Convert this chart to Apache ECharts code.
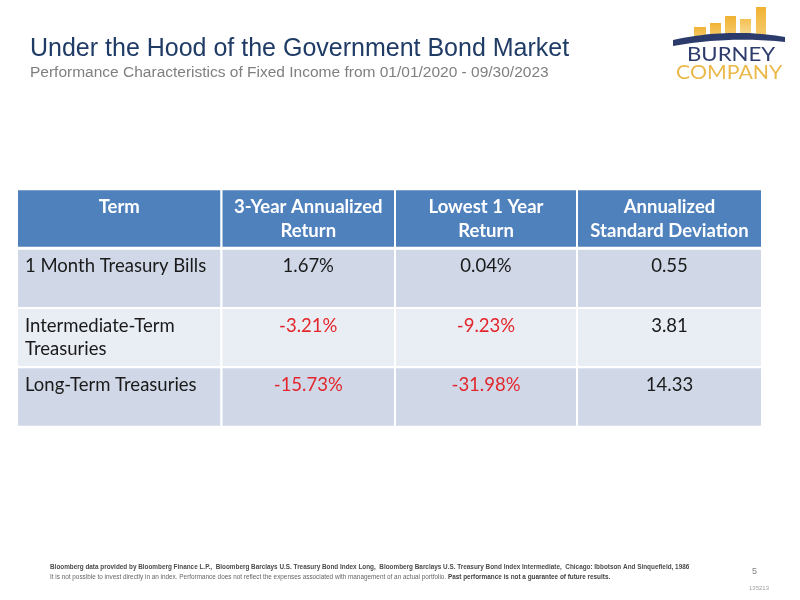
<!DOCTYPE html>
<html><head><meta charset="utf-8">
<script src="https://cdn.jsdelivr.net/npm/echarts@6/dist/echarts.min.js"></script>
<style>html,body{margin:0;padding:0;background:#fff}#c{width:800px;height:600px}</style>
</head><body><div id="c"></div>
<script>
// ---- data ----
const headers = ['Term', '3-Year Annualized\nReturn', 'Lowest 1 Year\nReturn', 'Annualized\nStandard Deviation'];
const terms = ['1 Month Treasury Bills', 'Intermediate-Term\nTreasuries', 'Long-Term Treasuries'];
const threeYearReturn = [1.67, -3.21, -15.73];
const lowestOneYearReturn = [0.04, -9.23, -31.98];
const annualizedStdDev = [0.55, 3.81, 14.33];

// ---- layout (not data) ----
const colWidths = [204.5, 173.5, 182, 185];
const colStarts = colWidths.map((w, i) => colWidths.slice(0, i).reduce((a, b) => a + b, 0));
const totalW = colWidths.reduce((a, b) => a + b, 0);
const rowCats = ['header'].concat(terms);
const bodyFont = 'Lato, "Noto Sans", sans-serif';

const cells = [];
headers.forEach((h, c) => cells.push({ value: [c, 0], text: h, kind: 'head' }));
terms.forEach((t, r) => {
  cells.push({ value: [0, r + 1], text: t, kind: 'term' });
  [threeYearReturn, lowestOneYearReturn].forEach((arr, k) =>
    cells.push({ value: [k + 1, r + 1], text: arr[r].toFixed(2) + '%', neg: arr[r] < 0, kind: 'num' }));
  cells.push({ value: [3, r + 1], text: annualizedStdDev[r].toFixed(2), neg: annualizedStdDev[r] < 0, kind: 'num' });
});

function renderCell(params, api) {
  const cell = cells[params.dataIndex];
  const c = api.value(0), r = api.value(1);
  const p0 = api.coord([colStarts[c], r]);
  const p1 = api.coord([colStarts[c] + colWidths[c], r]);
  const bandH = api.size([0, 1])[1];
  const isHead = cell.kind === 'head';
  const x = p0[0], y = p0[1] - bandH / 2, w = p1[0] - p0[0];
  const h = isHead ? bandH - 1 : bandH;
  const fill = isHead ? '#4F81BD' : (r % 2 === 1 ? '#D0D8E8' : '#E9EDF4');
  const left = cell.kind === 'term';
  return {
    type: 'group',
    children: [
      { type: 'rect', shape: { x: x, y: y, width: w, height: h },
        style: { fill: fill, stroke: '#ffffff', lineWidth: 2 } },
      { type: 'text',
        style: {
          text: cell.text,
          x: left ? x + 8 : x + w / 2,
          y: y + 6,
          align: left ? 'left' : 'center',
          verticalAlign: 'top',
          fontFamily: bodyFont,
          fontSize: 18.5,
          fontWeight: isHead ? 'bold' : 'normal',
          lineHeight: 23.5,
          fill: isHead ? '#ffffff' : (cell.neg ? '#E3262B' : '#1a1a1a')
        } }
    ]
  };
}

// logo swoosh outline (decoration)
function quad(p0, c, p1, n) {
  const pts = [];
  for (let i = 0; i <= n; i++) {
    const t = i / n, u = 1 - t;
    pts.push([u * u * p0[0] + 2 * u * t * c[0] + t * t * p1[0], u * u * p0[1] + 2 * u * t * c[1] + t * t * p1[1]]);
  }
  return pts;
}
const swoosh = quad([673, 40], [729, 27.5], [785, 37], 24).concat(quad([785, 42], [729, 36], [673, 46], 24));

const narrow = '"Liberation Sans", Arial, sans-serif';
const barGrad = (a, b) => new echarts.graphic.LinearGradient(0, 0, 0, 1, [{ offset: 0, color: a }, { offset: 1, color: b }]);

const chart = echarts.init(document.getElementById('c'), null, { renderer: 'canvas' });
chart.setOption({
  backgroundColor: '#ffffff',
  animation: false,
  grid: { left: 17, top: 189.3, width: 745, height: 237.4 },
  xAxis: { type: 'value', min: 0, max: totalW, show: false },
  yAxis: { type: 'category', data: rowCats, inverse: true, show: false },
  series: [{
    type: 'custom',
    renderItem: renderCell,
    clip: false,
    data: cells.map(c => c.value)
  }],
  graphic: [
    { type: 'text', left: 30, top: 37,
      style: { text: 'Under the Hood of the Government Bond Market', fontFamily: '"Liberation Sans", Arial, sans-serif', fontSize: 25, fill: '#1F3B66' } },
    { type: 'text', left: 30, top: 65,
      style: { text: 'Performance Characteristics of Fixed Income from 01/01/2020 - 09/30/2023', fontFamily: '"Liberation Sans", Arial, sans-serif', fontSize: 15.5, fill: '#7F7F7F' } },
    { type: 'rect', shape: { x: 694, y: 27, width: 12, height: 10 }, style: { fill: barGrad('#F0B234', '#F6CB6A') } },
    { type: 'rect', shape: { x: 710, y: 23, width: 11, height: 13 }, style: { fill: barGrad('#F0B234', '#F6CB6A') } },
    { type: 'rect', shape: { x: 725, y: 16, width: 11, height: 19 }, style: { fill: barGrad('#F0B234', '#F6CB6A') } },
    { type: 'rect', shape: { x: 740, y: 19, width: 11, height: 16 }, style: { fill: barGrad('#F4C152', '#F9DB95') } },
    { type: 'rect', shape: { x: 756, y: 7, width: 10, height: 28 }, style: { fill: barGrad('#F0B234', '#F6CB6A') } },
    { type: 'polygon', shape: { points: swoosh }, style: { fill: '#2B3B6B' } },
    { type: 'text', x: 687, y: 46, scaleX: 1.2,
      style: { text: 'BURNEY', fontFamily: 'Lato, "Open Sans", sans-serif', fontSize: 18.5, fill: '#2E3C6C' } },
    { type: 'text', x: 676, y: 64, scaleX: 1.15,
      style: { text: 'COMPANY', fontFamily: 'Lato, "Open Sans", sans-serif', fontSize: 18.5, fill: '#EBB94A' } },
    { type: 'text', x: 50, y: 563, scaleX: 0.85,
      style: { text: 'Bloomberg data provided by Bloomberg Finance L.P.,  Bloomberg Barclays U.S. Treasury Bond Index Long,  Bloomberg Barclays U.S. Treasury Bond Index Intermediate,  Chicago: Ibbotson And Sinquefield, 1986',
        fontFamily: narrow, fontSize: 7.5, fontWeight: 'bold', fill: '#4a4a4a' } },
    { type: 'text', x: 50, y: 573, scaleX: 0.85,
      style: { text: '{r|It is not possible to invest directly in an index. Performance does not reflect the expenses associated with management of an actual portfolio. }{b|Past performance is not a guarantee of future results.}',
        rich: {
          r: { fontFamily: narrow, fontSize: 7.5, fill: '#666666' },
          b: { fontFamily: narrow, fontSize: 7.5, fontWeight: 'bold', fill: '#3f3f3f' }
        } } },
    { type: 'text', left: 752, top: 567, style: { text: '5', fontFamily: '"Liberation Sans", Arial, sans-serif', fontSize: 9, fill: '#808080' } },
    { type: 'text', left: 749, top: 585, style: { text: '135213', fontFamily: '"Liberation Sans", Arial, sans-serif', fontSize: 6, fill: '#A0A0A0' } }
  ]
});
</script></body></html>
